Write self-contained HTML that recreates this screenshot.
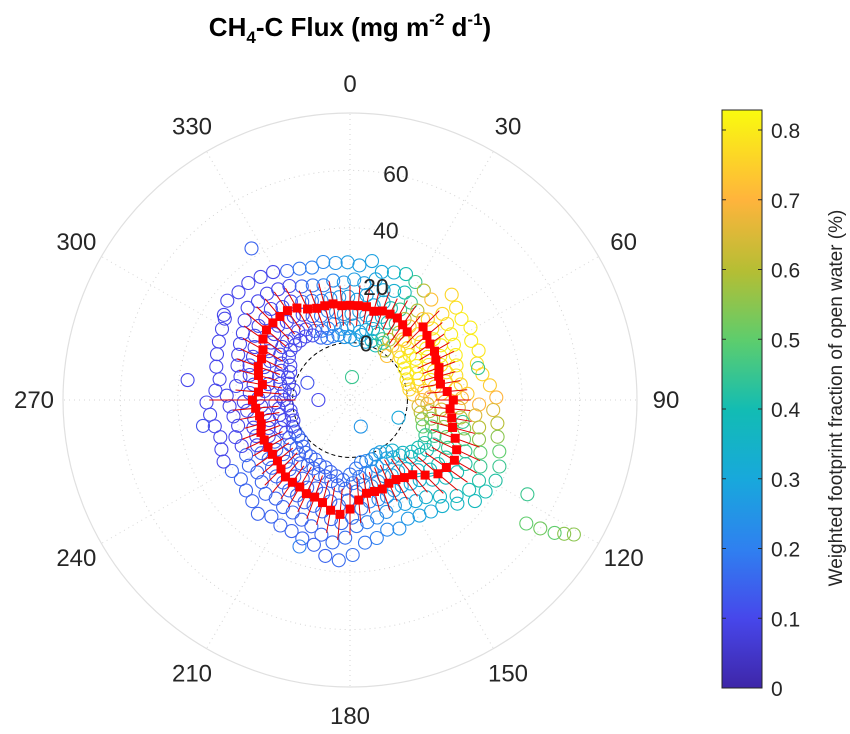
<!DOCTYPE html>
<html><head><meta charset="utf-8"><style>
html,body{margin:0;padding:0;background:#fff;}
svg{display:block;font-family:"Liberation Sans",Arial,sans-serif;}
</style></head><body>
<svg id="chart" width="850" height="734" viewBox="0 0 850 734">
<defs>
<linearGradient id="parula" x1="0" y1="1" x2="0" y2="0">
<stop offset="0" stop-color="#3e26a8"/><stop offset="0.12" stop-color="#4747eb"/><stop offset="0.24" stop-color="#2f80f0"/><stop offset="0.36" stop-color="#18a8dc"/><stop offset="0.48" stop-color="#12bcb4"/><stop offset="0.6" stop-color="#5ccd6e"/><stop offset="0.72" stop-color="#b4be34"/><stop offset="0.845" stop-color="#ffb43c"/><stop offset="1" stop-color="#f9fb0e"/>
</linearGradient>
</defs>
<text x="350" y="36" text-anchor="middle" font-size="26" font-weight="bold" fill="#000">CH<tspan font-size="17" dy="7">4</tspan><tspan dy="-7">-C Flux (mg m</tspan><tspan font-size="17" dy="-11">-2</tspan><tspan dy="11"> d</tspan><tspan font-size="17" dy="-11">-1</tspan><tspan dy="11">)</tspan></text>
<g id="grid"></g>
<g id="scatter"></g>
<g id="median"></g>
<g id="labels"></g>
<g id="cbar">
<rect x="722" y="110" width="40" height="578" fill="url(#parula)" stroke="#262626" stroke-width="1"/>
</g>
<text transform="translate(842,398) rotate(-90)" text-anchor="middle" font-size="19" fill="#262626">Weighted footprint fraction of open water (%)</text>
</svg>
<script>
const angleTicks=[0,30,60,90,120,150,180,210,240,270,300,330];
const radialTicks=[0,20,40,60];
const cbarTicks=[0,0.1,0.2,0.3,0.4,0.5,0.6,0.7,0.8];
const medAng=[0,5,10,15,20,25,30,35,40,45,50,55,60,65,70,75,80,85,90,95,100,105,110,115,120,125,130,135,140,145,150,155,160,165,170,175,180,185,190,195,200,205,210,215,220,225,230,235,240,245,250,255,260,265,270,275,280,285,290,295,300,305,310,315,320,325,330,335,340,345,350,355];
const medVal=[13,13,13,12,13,13,13,12,11,16,15,14,14,13,13,12,12,14,16,15,16,17,19,21,22,21,20,17,14,13,12,12,13,13,13,15,18,20,19,17,16,16,15,15,15,14,13,13,13,13,13,12,12,13,14,12,11,13,14,14,15,17,18,18,18,18,17,15,14,14,14,13];
const medErr=[7,7,6,7,7,6,7,8,7,8,7,6,6,7,6,6,7,7,6,7,7,8,9,9,9,9,9,9,8,8,8,7,8,7,7,8,9,9,8,8,8,7,8,7,7,8,7,7,6,7,7,6,7,8,15,8,7,7,8,8,8,8,9,8,8,8,8,7,7,8,8,7];
const binVals=[[5,10,16,22],[6,11,15,21],[4,10,17,23],[5,9,14,20],[6,11,16,21],[5,10,15,22],[4,11,16,20],[5,9,14,19],[4,8,13,18],[8,13,19,24],[7,12,18,23],[6,12,16,22],[7,11,17,21],[6,10,15,20],[5,11,14,19],[5,9,15,18],[4,10,14,19],[6,12,17,21],[8,13,19,25],[7,12,18,24],[8,14,19,26],[9,14,21,27],[10,16,22,29],[12,18,24,31],[13,19,26,33],[12,18,25,32],[11,17,23,30],[9,14,20,26],[6,11,17,23],[5,10,16,22],[4,10,15,21],[5,9,15,20],[5,10,16,21],[6,11,16,22],[6,10,16,23],[7,12,18,24],[9,15,21,28],[11,17,23,30],[10,16,22,28],[9,14,20,26],[8,13,19,25],[8,14,19,24],[7,12,18,24],[7,13,18,23],[8,12,17,24],[6,11,17,22],[5,10,16,21],[6,11,15,22],[5,10,16,21],[5,11,16,21],[6,10,15,22],[4,9,15,20],[5,10,14,21],[5,11,16,22],[6,12,17,23],[4,10,15,20],[3,9,14,19],[5,10,16,21],[6,12,17,22],[6,11,17,23],[7,13,18,24],[9,14,20,26],[10,15,21,28],[10,16,21,27],[9,15,22,27],[10,15,20,26],[9,14,20,25],[7,12,18,23],[6,11,17,22],[6,12,16,21],[7,11,16,22],[5,10,16,21]];
const binAngOff=[-2,1,-1,2];
const binVals2=[[2,28],[1,27],[3,29],[1,26],[2,27],[1,28],[3,27],[1,26],[0,25],[4,31],[3,29],[3,28],[2,29],[2,27],[1,28],[1,26],[1,27],[2,29],[5,31],[4,30],[5,32],[6,33],[7,35],[9,37],[10,38],[9,37],[8,36],[6,32],[3,29],[2,28],[1,27],[1,26],[2,28],[2,27],[2,29],[4,30],[6,34],[8,36],[7,35],[6,32],[5,31],[5,30],[4,30],[4,29],[4,31],[3,29],[2,28],[2,27],[2,28],[2,29],[1,28],[1,27],[1,28],[2,29],[3,30],[1,27],[0,26],[2,28],[3,29],[3,30],[4,31],[6,33],[7,35],[7,34],[7,34],[7,33],[6,32],[4,30],[3,29],[3,28],[3,29],[2,28]];
const binAngOff2=[0,-1];
const binFrac=[.27,.27,.28,.3,.33,.4,.45,.6,.72,.76,.78,.8,.8,.8,.79,.78,.76,.74,.7,.65,.6,.55,.5,.45,.42,.4,.38,.36,.34,.3,.28,.26,.24,.22,.2,.18,.17,.16,.15,.15,.15,.15,.15,.15,.15,.15,.15,.15,.15,.1,.1,.1,.1,.1,.1,.1,.1,.1,.1,.1,.1,.1,.1,.1,.1,.1,.1,.15,.18,.2,.22,.25];
const outAng=[303,277,260,125,124,123,122,121,118,5,158,292,270,327,76,199,101,110];
const outVal=[32,37,32,55,60,65,68,71,50,-12,-10,-4,-9,43,26,34,20,-2];
const outFrac=[.1,.1,.12,.5,.52,.5,.55,.55,.45,.45,.25,.12,.1,.15,.45,.2,.45,.3];

const cx=350,cy=400,R=287,rMin=-20,rMax=80;
const NS='http://www.w3.org/2000/svg';
function rScale(v){return (v-rMin)/(rMax-rMin)*R;}
function pt(a,v){const r=rScale(v),t=a*Math.PI/180;return [cx+r*Math.sin(t),cy-r*Math.cos(t)];}
function cbY(v){return 688-v/0.8*558;}
const stops=[[0,[62,38,168]],[.12,[71,71,235]],[.24,[47,128,240]],[.36,[24,168,220]],[.48,[18,188,180]],[.6,[92,205,110]],[.72,[180,190,52]],[.845,[255,180,60]],[1,[249,251,14]]];
function color(f){let t=Math.max(0,Math.min(1,f/0.828));for(let i=1;i<stops.length;i++){if(t<=stops[i][0]){const a=stops[i-1],b=stops[i],u=(t-a[0])/(b[0]-a[0]);const c=a[1].map((x,k)=>Math.round(x+(b[1][k]-x)*u));return `rgb(${c})`;}}return 'rgb(249,251,14)';}
function mk(tag,attrs,parent){const e=document.createElementNS(NS,tag);for(const k in attrs)e.setAttribute(k,attrs[k]);parent.appendChild(e);return e;}

const grid=document.getElementById('grid');
angleTicks.forEach(a=>{const [x,y]=pt(a,rMax);const l=mk('line',{x1:cx,y1:cy,x2:x,y2:y,stroke:'#d4d4d4','stroke-width':1,'stroke-dasharray':'1,4'},grid);

});
radialTicks.forEach(v=>{const c=mk('circle',{cx:cx,cy:cy,r:rScale(v),fill:'none',stroke:'#d4d4d4','stroke-width':1,'stroke-dasharray':'1,4'},grid);

});
const oc=mk('circle',{cx:cx,cy:cy,r:R,fill:'none',stroke:'#e0e0e0','stroke-width':1.2},grid);


const zc=mk('circle',{cx:cx,cy:cy,r:rScale(0),fill:'none',stroke:'#000','stroke-width':1,'stroke-dasharray':'4,3'},grid);



const sc=document.getElementById('scatter');
function dot(a,v,f){const [x,y]=pt(a,v);const c=mk('circle',{cx:x.toFixed(1),cy:y.toFixed(1),r:6.5,fill:'none',stroke:color(f),'stroke-width':1.1},sc);

}
binVals.forEach((vals,i)=>vals.forEach((v,j)=>dot(medAng[i]+binAngOff[j],v,binFrac[i])));
binVals2.forEach((vals,i)=>vals.forEach((v,j)=>dot(medAng[i]+binAngOff2[j],v,binFrac[i])));
outAng.forEach((a,i)=>dot(a,outVal[i],outFrac[i]));

const md=document.getElementById('median');
medAng.forEach((a,i)=>{const [x1,y1]=pt(a,medVal[i]-medErr[i]);const [x2,y2]=pt(a,medVal[i]+medErr[i]);
const l=mk('line',{x1:x1,y1:y1,x2:x2,y2:y2,stroke:'#e00000','stroke-width':1},md);

});
medAng.forEach((a,i)=>{const [x,y]=pt(a,medVal[i]);
const s=mk('rect',{x:x-4.5,y:y-4.5,width:9,height:9,fill:'#ff0000'},md);

});

const lb=document.getElementById('labels');
angleTicks.forEach(a=>{const t=a*Math.PI/180,r=316;const x=cx+r*Math.sin(t),y=cy-r*Math.cos(t)+8;
const e=mk('text',{x:x,y:y,'text-anchor':'middle','font-size':24,fill:'#262626'},lb);e.textContent=a;

});
radialTicks.forEach(v=>{const t=10*Math.PI/180,r=rScale(v);const x=cx+r*Math.sin(t)+6,y=cy-r*Math.cos(t)+8;
const e=mk('text',{x:x,y:y,'text-anchor':'middle','font-size':23,fill:'#262626'},lb);e.textContent=v;

});

const cb=document.getElementById('cbar');
cbarTicks.forEach(v=>{const y=cbY(v);
const tk=mk('line',{x1:762,y1:y,x2:758,y2:y,stroke:'#262626','stroke-width':1},cb);


const tk2=mk('line',{x1:722,y1:y,x2:726,y2:y,stroke:'#262626','stroke-width':1},cb);


const e=mk('text',{x:771,y:y+8,'font-size':21,fill:'#262626'},cb);e.textContent=v===0?'0':v.toFixed(1);

});
</script>
</body></html>
